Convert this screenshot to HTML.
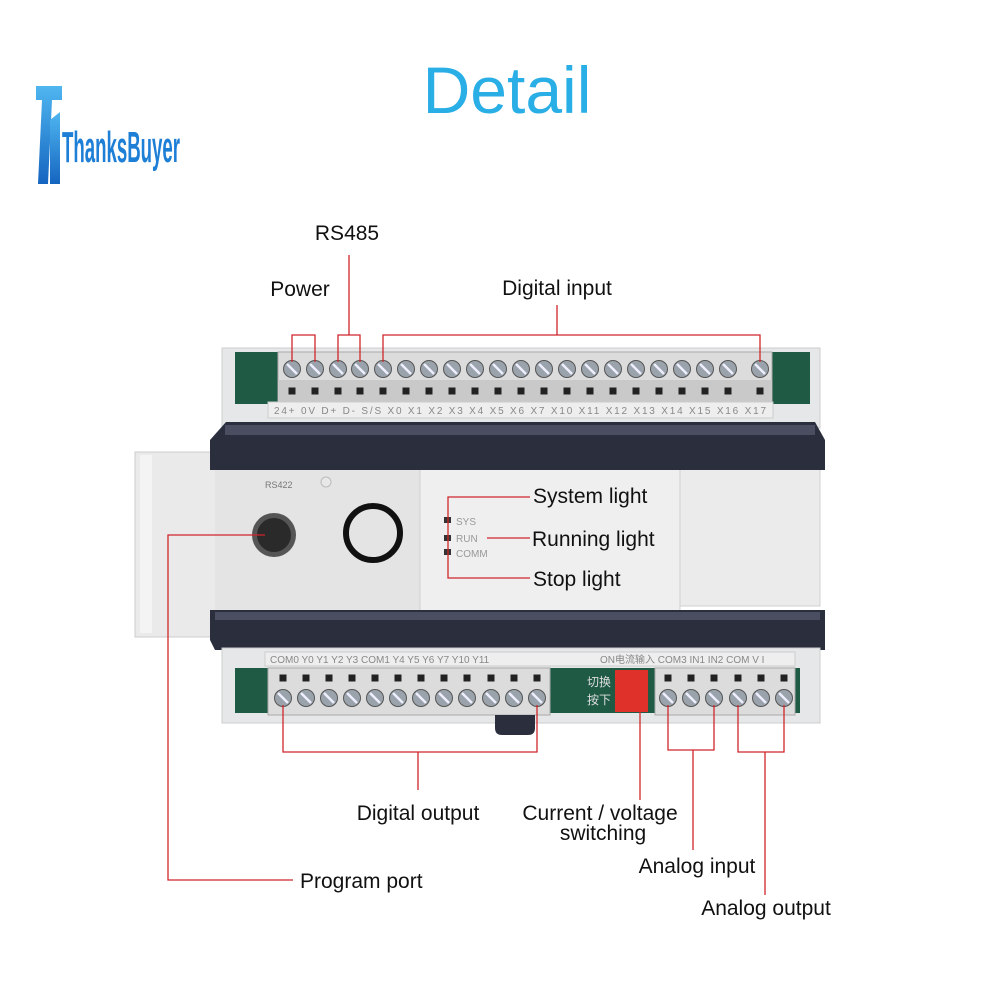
<!DOCTYPE html>
<html><head><meta charset="utf-8"><style>
html,body{margin:0;padding:0;background:#fff;width:1000px;height:1000px;overflow:hidden}
svg{display:block}
.lb{font-family:"Liberation Sans","DejaVu Sans",sans-serif;font-size:21px;fill:#111}
.sm{font-family:"Liberation Sans",sans-serif;font-size:10px;fill:#888}
</style></head><body>
<svg width="1000" height="1000" viewBox="0 0 1000 1000" xmlns="http://www.w3.org/2000/svg">
<defs>
<linearGradient id="lg" x1="0" y1="0" x2="0" y2="1"><stop offset="0" stop-color="#4fb6f0"/><stop offset="1" stop-color="#1565c0"/></linearGradient>
<g id="sc"><circle r="8.5" fill="#9aa3ab" stroke="#555" stroke-width="1"/><line x1="-5" y1="-5" x2="5" y2="5" stroke="#eef" stroke-width="2.5"/></g>
<rect id="hole" x="-3.5" y="-3.5" width="7" height="7" fill="#222"/>
</defs>
<!-- logo -->
<path d="M36 86 L62 86 L62 100 L52 100 L48 184 L38 184 L42 100 L36 100Z" fill="url(#lg)"/>
<path d="M50 120 L60 112 L60 184 L50 184Z" fill="url(#lg)"/>
<text x="62" y="162" font-family="Liberation Sans Narrow,Liberation Sans,sans-serif" font-size="44" font-weight="bold" fill="#1e7fd6" textLength="118" lengthAdjust="spacingAndGlyphs">ThanksBuyer</text>
<!-- title -->
<text x="507" y="113" text-anchor="middle" font-family="Liberation Sans,sans-serif" font-size="66" fill="#29aee6">Detail</text>

<!-- top housing -->
<rect x="222" y="348" width="598" height="80" fill="#e6e7e8" stroke="#ccc"/>
<rect x="235" y="352" width="575" height="52" fill="#1f5a45"/>
<rect x="278" y="352" width="494" height="54" fill="#dcdcdc" stroke="#aaa"/>
<rect x="278" y="380" width="494" height="22" fill="#c9c9c9"/>
<rect x="268" y="402" width="505" height="16" fill="#eee" stroke="#ccc"/>
<g>
<use href="#sc" x="292" y="369"/><use href="#sc" x="315" y="369"/><use href="#sc" x="338" y="369"/><use href="#sc" x="360" y="369"/><use href="#sc" x="383" y="369"/><use href="#sc" x="406" y="369"/><use href="#sc" x="429" y="369"/><use href="#sc" x="452" y="369"/><use href="#sc" x="475" y="369"/><use href="#sc" x="498" y="369"/><use href="#sc" x="521" y="369"/><use href="#sc" x="544" y="369"/><use href="#sc" x="567" y="369"/><use href="#sc" x="590" y="369"/><use href="#sc" x="613" y="369"/><use href="#sc" x="636" y="369"/><use href="#sc" x="659" y="369"/><use href="#sc" x="682" y="369"/><use href="#sc" x="705" y="369"/><use href="#sc" x="728" y="369"/><use href="#sc" x="760" y="369"/>
<use href="#hole" x="292" y="391"/><use href="#hole" x="315" y="391"/><use href="#hole" x="338" y="391"/><use href="#hole" x="360" y="391"/><use href="#hole" x="383" y="391"/><use href="#hole" x="406" y="391"/><use href="#hole" x="429" y="391"/><use href="#hole" x="452" y="391"/><use href="#hole" x="475" y="391"/><use href="#hole" x="498" y="391"/><use href="#hole" x="521" y="391"/><use href="#hole" x="544" y="391"/><use href="#hole" x="567" y="391"/><use href="#hole" x="590" y="391"/><use href="#hole" x="613" y="391"/><use href="#hole" x="636" y="391"/><use href="#hole" x="659" y="391"/><use href="#hole" x="682" y="391"/><use href="#hole" x="705" y="391"/><use href="#hole" x="728" y="391"/><use href="#hole" x="760" y="391"/>
</g>
<text class="sm" x="274" y="414" textLength="492" lengthAdjust="spacing">24+  0V   D+  D-  S/S  X0   X1   X2   X3   X4   X5   X6   X7  X10 X11 X12 X13 X14 X15 X16 X17</text>

<!-- middle -->
<rect x="135" y="452" width="82" height="185" fill="#eaeaea" stroke="#ccc"/>
<rect x="140" y="455" width="12" height="178" fill="#f4f4f4"/>
<rect x="215" y="466" width="205" height="146" fill="#e4e4e4"/>
<rect x="420" y="466" width="260" height="146" fill="#efefef" stroke="#d0d0d0"/>
<rect x="680" y="466" width="140" height="140" fill="#ebebeb" stroke="#d0d0d0"/>
<text x="265" y="488" font-family="Liberation Sans,sans-serif" font-size="9" fill="#777">RS422</text>
<circle cx="274" cy="535" r="22" fill="#555"/><circle cx="274" cy="535" r="17" fill="#2a2a2a"/>
<circle cx="373" cy="533" r="27" fill="none" stroke="#111" stroke-width="6"/>
<circle cx="326" cy="482" r="5" fill="#e8e8e8" stroke="#bbb"/>
<rect x="444" y="517" width="7" height="6" fill="#333"/><rect x="444" y="535" width="7" height="6" fill="#333"/><rect x="444" y="549" width="7" height="6" fill="#333"/>
<text x="456" y="525" font-family="Liberation Sans,sans-serif" font-size="10" fill="#999">SYS</text>
<text x="456" y="542" font-family="Liberation Sans,sans-serif" font-size="10" fill="#999">RUN</text>
<text x="456" y="557" font-family="Liberation Sans,sans-serif" font-size="10" fill="#999">COMM</text>

<!-- rails -->
<path d="M210 440 L226 422 L815 422 L825 440 L825 470 L210 470Z" fill="#2b2e3d"/>
<rect x="225" y="425" width="590" height="10" fill="#4a4e60"/>
<path d="M210 610 L825 610 L825 650 L215 650 L210 640Z" fill="#2b2e3d"/>
<rect x="215" y="612" width="605" height="8" fill="#4a4e60"/>

<!-- bottom housing -->
<rect x="222" y="648" width="598" height="75" fill="#e6e7e8" stroke="#ccc"/>
<rect x="265" y="652" width="530" height="14" fill="#eee" stroke="#ccc"/>
<text class="sm" x="270" y="663" font-size="9">COM0 Y0  Y1  Y2  Y3 COM1 Y4  Y5  Y6  Y7  Y10 Y11</text>
<text class="sm" x="600" y="663" font-size="9">ON电流输入 COM3 IN1 IN2  COM  V  I</text>
<rect x="235" y="668" width="565" height="45" fill="#1f5a45"/>
<rect x="268" y="668" width="282" height="47" fill="#dcdcdc" stroke="#aaa"/>
<rect x="655" y="668" width="140" height="47" fill="#dcdcdc" stroke="#aaa"/>
<rect x="615" y="670" width="33" height="42" fill="#e0302a"/>
<text x="587" y="686" font-family="Noto Sans CJK SC,sans-serif" font-size="12" fill="#ddd">切换</text>
<text x="587" y="704" font-family="Noto Sans CJK SC,sans-serif" font-size="12" fill="#ddd">按下</text>
<path d="M495 715 L535 715 L535 728 Q535 735 528 735 L502 735 Q495 735 495 728Z" fill="#2b2e3d"/>
<g>
<use href="#sc" x="283" y="698"/><use href="#sc" x="306" y="698"/><use href="#sc" x="329" y="698"/><use href="#sc" x="352" y="698"/><use href="#sc" x="375" y="698"/><use href="#sc" x="398" y="698"/><use href="#sc" x="421" y="698"/><use href="#sc" x="444" y="698"/><use href="#sc" x="467" y="698"/><use href="#sc" x="491" y="698"/><use href="#sc" x="514" y="698"/><use href="#sc" x="537" y="698"/>
<use href="#sc" x="668" y="698"/><use href="#sc" x="691" y="698"/><use href="#sc" x="714" y="698"/><use href="#sc" x="738" y="698"/><use href="#sc" x="761" y="698"/><use href="#sc" x="784" y="698"/>
<use href="#hole" x="283" y="678"/><use href="#hole" x="306" y="678"/><use href="#hole" x="329" y="678"/><use href="#hole" x="352" y="678"/><use href="#hole" x="375" y="678"/><use href="#hole" x="398" y="678"/><use href="#hole" x="421" y="678"/><use href="#hole" x="444" y="678"/><use href="#hole" x="467" y="678"/><use href="#hole" x="491" y="678"/><use href="#hole" x="514" y="678"/><use href="#hole" x="537" y="678"/>
<use href="#hole" x="668" y="678"/><use href="#hole" x="691" y="678"/><use href="#hole" x="714" y="678"/><use href="#hole" x="738" y="678"/><use href="#hole" x="761" y="678"/><use href="#hole" x="784" y="678"/>
</g>

<!-- connectors -->
<g fill="none" stroke="#d0262c" stroke-width="1.3">
<path d="M292 362 V335 H315 V362"/>
<path d="M338 362 V335 H360 V362 M349 335 V255"/>
<path d="M383 362 V335 H760 V362 M557 335 V305"/>
<path d="M530 497 H448 V578 H530 M487 538 H530"/>
<path d="M265 535 H168 V880 H293"/>
<path d="M283 705 V752 H537 V705 M418 752 V790"/>
<path d="M640 712 V800"/>
<path d="M668 705 V750 H714 V705 M693 750 V850"/>
<path d="M738 705 V752 H784 V705 M765 752 V895"/>
</g>

<!-- labels -->
<text class="lb" x="300" y="296" text-anchor="middle">Power</text>
<text class="lb" x="347" y="240" text-anchor="middle">RS485</text>
<text class="lb" x="557" y="295" text-anchor="middle">Digital input</text>
<text class="lb" x="533" y="503">System light</text>
<text class="lb" x="532" y="546">Running light</text>
<text class="lb" x="533" y="586">Stop light</text>
<text class="lb" x="300" y="888">Program port</text>
<text class="lb" x="418" y="820" text-anchor="middle">Digital output</text>
<text class="lb" x="600" y="820" text-anchor="middle">Current / voltage</text>
<text class="lb" x="603" y="840" text-anchor="middle">switching</text>
<text class="lb" x="697" y="873" text-anchor="middle">Analog input</text>
<text class="lb" x="766" y="915" text-anchor="middle">Analog output</text>
</svg>
</body></html>
